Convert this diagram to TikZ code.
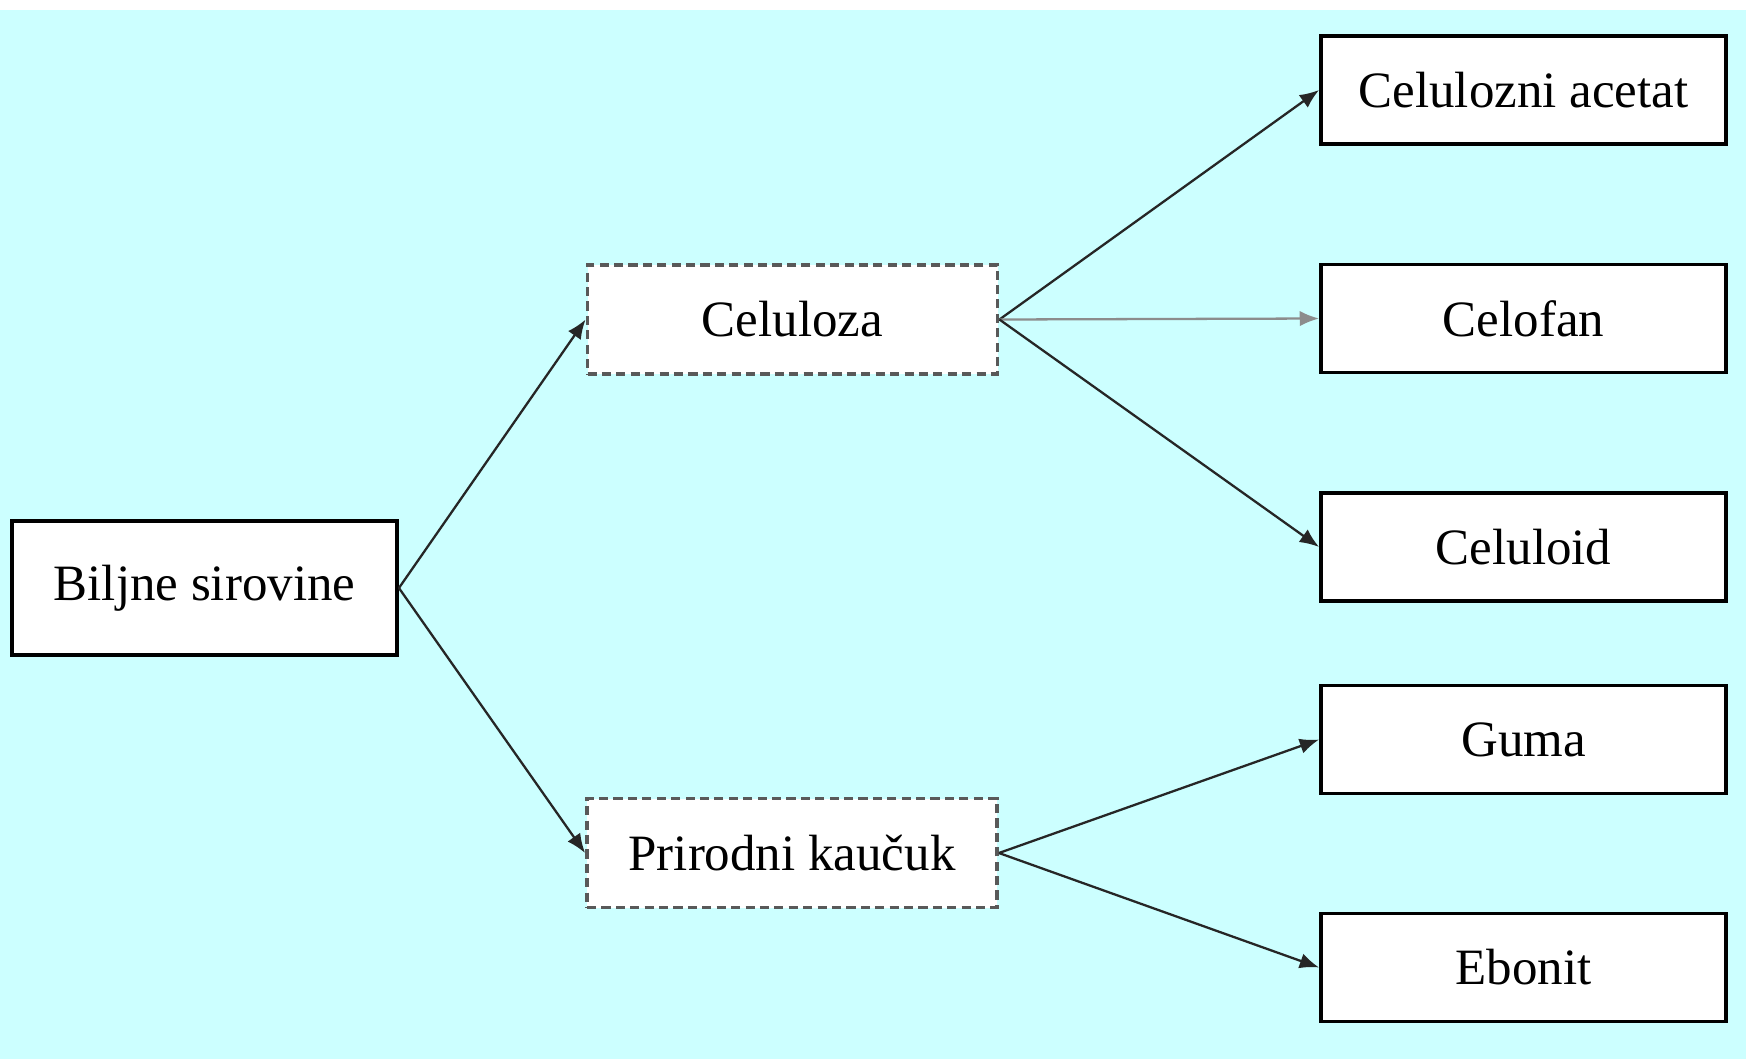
\documentclass[tikz,border=0pt]{standalone}
\usepackage{fontspec}
\setmainfont{Liberation Serif}
\usetikzlibrary{arrows.meta}
\definecolor{bgcyan}{HTML}{CCFFFF}
\tikzset{
  box/.style={draw=black,line width=1.1pt,fill=white,minimum width=4.05cm,minimum height=1.08cm,font=\fontsize{14.5}{17}\selectfont},
  midbox/.style={box,draw=black!65,dash pattern=on 2.6pt off 1.5pt,minimum width=4.1cm,minimum height=1.09cm},
  arr/.style={-{Latex[length=5.5pt,width=4.4pt]},line width=0.65pt,black!85}
}
\begin{document}
\begin{tikzpicture}[x=1cm,y=1cm]
\useasboundingbox (0,0) rectangle (17.46,-10.59);
\fill[bgcyan] (0,-0.1) rectangle (17.46,-10.59);
\node[box,minimum width=3.85cm,minimum height=1.34cm] (bilj) at (2.045,-5.88) {Biljne sirovine};
\node[midbox] (cel) at (7.925,-3.195) {Celuloza};
\node[midbox] (kau) at (7.92,-8.53) {Prirodni kaučuk};
\node[box] (acet) at (15.235,-0.90) {Celulozni acetat};
\node[box] (fan) at (15.235,-3.185) {Celofan};
\node[box] (oid) at (15.235,-5.47) {Celuloid};
\node[box] (guma) at (15.235,-7.395) {Guma};
\node[box] (ebo) at (15.235,-9.675) {Ebonit};
\draw[arr] (bilj.east) -- (cel.west);
\draw[arr] (bilj.east) -- (kau.west);
\draw[arr] (cel.east) -- (acet.west);
\draw[arr,black!45] (cel.east) -- (fan.west);
\draw[arr] (cel.east) -- (oid.west);
\draw[arr] (kau.east) -- (guma.west);
\draw[arr] (kau.east) -- (ebo.west);
\end{tikzpicture}
\end{document}
